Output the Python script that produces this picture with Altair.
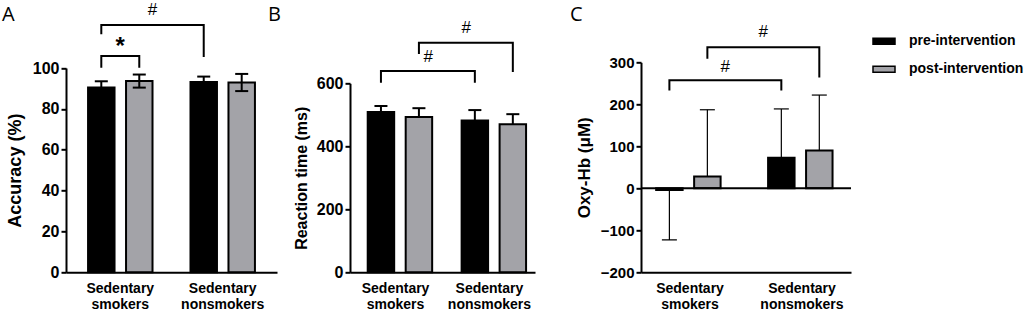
import altair as alt
import pandas as pd

# ---------------- data ----------------
groups = ["Sedentary smokers", "Sedentary nonsmokers"]
series = ["pre-intervention", "post-intervention"]
bar_group = [groups[0], groups[0], groups[1], groups[1]]
bar_series = [series[0], series[1], series[0], series[1]]

acc_mean = [90.4, 93.6, 93.2, 92.9]
acc_err = [3.1, 3.2, 2.6, 4.2]
rt_mean = [509, 493, 482, 470]
rt_err = [19, 28, 33, 32]
oxy_mean = [-4, 28, 73, 90]
oxy_err = [119, 159, 116, 132]

# significance brackets: from (group, series) to (group, series), left end, top, right end
acc_brackets = [
    (groups[0], series[0], groups[0], series[1], 100.6, 105.9, 100.6),
    (groups[0], series[0], groups[1], series[0], 117.0, 121.0, 105.9),
]
acc_star = [(groups[0], "*", 112.0)]
acc_hash = [(groups[0], series[0], "#", 128.5)]

rt_brackets = [
    (groups[0], series[0], groups[1], series[0], 605, 639, 605),
    (groups[0], series[1], groups[1], series[1], 696, 729, 639),
]
rt_hash = [(groups[0], series[0], "#", 685), (groups[0], series[1], "#", 775)]

oxy_brackets = [
    (groups[0], series[0], groups[1], series[0], 235, 257, 235),
    (groups[0], series[1], groups[1], series[1], 311, 336, 266),
]
oxy_hash = [(groups[0], series[0], "#", 290), (groups[0], series[1], "#", 373)]

FONT = "Liberation Sans, Arial, sans-serif"
GRAY = "#a3a3a8"


def bracket_df(spec):
    rows = []
    for i, (g1, s1, g2, s2, yl, top, yr) in enumerate(spec):
        pts = [(g1, s1, yl), (g1, s1, top), (g2, s2, top), (g2, s2, yr)]
        for k, (g, s, v) in enumerate(pts):
            rows.append({"id": i, "k": k, "group": g, "series": s, "y": v})
    return pd.DataFrame(rows)


def make_panel(mean, err, mode, y_title, y_domain, y_range, y_values, width,
               x_range, x_pad, off_pad, brackets, hashes, hash_dx, stars,
               tick_font, title_font, title_pad, letter, letter_xy,
               err_w, cap_size, zero_line=False):
    bars = pd.DataFrame({"group": bar_group, "series": bar_series, "mean": mean})
    lo, hi, cap_rows = [], [], []
    for g, s, m, e in zip(bar_group, bar_series, mean, err):
        if mode == "both":
            lo.append(m - e); hi.append(m + e)
            cap_rows += [(g, s, m - e), (g, s, m + e)]
        elif m >= 0:
            lo.append(m); hi.append(m + e)
            cap_rows.append((g, s, m + e))
        else:
            lo.append(m - e); hi.append(m)
            cap_rows.append((g, s, m - e))
    errs = pd.DataFrame({"group": bar_group, "series": bar_series, "lo": lo, "hi": hi})
    caps = pd.DataFrame(cap_rows, columns=["group", "series", "y"])

    xs = dict(domain=groups, paddingInner=x_pad[0], paddingOuter=x_pad[1])
    if x_range is not None:
        xs["range"] = x_range
    xaxis = alt.Axis(title=None, labelAngle=0, ticks=False, domainWidth=2,
                     domainColor="black", labelFontSize=14, labelColor="black",
                     labelPadding=9, labelExpr="split(datum.label, ' ')",
                     labelLineHeight=16, labelBaseline="top")
    X = lambda: alt.X("group:N", scale=alt.Scale(**xs), axis=xaxis)
    XO = lambda: alt.XOffset("series:N", scale=alt.Scale(domain=series,
                             paddingInner=off_pad[0], paddingOuter=off_pad[1]))
    ys = dict(domain=y_domain, nice=False, zero=False)
    if y_range is not None:
        ys["range"] = y_range
    yaxis = alt.Axis(title=y_title, values=y_values, grid=False, tickSize=5,
                     tickWidth=2, tickColor="black", domainWidth=2,
                     domainColor="black", labelFontSize=tick_font, labelColor="black",
                     labelPadding=2, titleFontSize=title_font,
                     titleColor="black", titlePadding=title_pad)
    Y = lambda f: alt.Y(f, scale=alt.Scale(**ys), axis=yaxis)

    color = alt.Color("series:N", scale=alt.Scale(domain=series, range=["#000000", GRAY]),
                      legend=alt.Legend(orient="none", legendX=806, legendY=-33,
                                        title=None, symbolType="M-1,-0.27H1V0.27H-1Z",
                                        symbolSize=484, symbolStrokeColor="black",
                                        symbolStrokeWidth=1.5, symbolOpacity=1,
                                        labelFont=FONT, labelFontSize=14,
                                        labelFontWeight="bold", labelColor="black",
                                        labelOffset=13, rowPadding=9, padding=0))

    layers = []
    layers.append(alt.Chart(bars).mark_bar(stroke="black", strokeWidth=2, opacity=1).encode(
        x=X(), xOffset=XO(), y=Y("mean:Q"), color=color))
    if zero_line:
        layers.append(alt.Chart(pd.DataFrame({"y": [0]})).mark_rule(
            color="black", strokeWidth=2).encode(y=Y("y:Q")))
    layers.append(alt.Chart(errs).mark_rule(color="black", strokeWidth=err_w).encode(
        x=X(), xOffset=XO(), y=Y("lo:Q"), y2="hi:Q"))
    layers.append(alt.Chart(caps).mark_tick(color="black", thickness=err_w, size=cap_size,
                                            orient="horizontal", opacity=1).encode(
        x=X(), xOffset=XO(), y=Y("y:Q")))
    layers.append(alt.Chart(bracket_df(brackets)).mark_line(
        color="black", strokeWidth=2, strokeCap="square").encode(
        x=X(), xOffset=XO(), y=Y("y:Q"), detail="id:N", order="k:Q"))
    hdf = pd.DataFrame(hashes, columns=["group", "series", "t", "y"])
    layers.append(alt.Chart(hdf).mark_text(font=FONT, fontSize=17, color="black",
                                           baseline="middle", dx=hash_dx).encode(
        x=X(), xOffset=XO(), y=Y("y:Q"), text="t:N"))
    if stars:
        sdf = pd.DataFrame(stars, columns=["group", "t", "y"])
        layers.append(alt.Chart(sdf).mark_text(font=FONT, fontSize=24, fontWeight="bold",
                                               color="black", baseline="middle", dy=4).encode(
            x=X(), y=Y("y:Q"), text="t:N"))
    layers.append(alt.Chart(pd.DataFrame({"t": [letter]})).mark_text(
        font="Open Sans", fontSize=20, color="black", align="left",
        baseline="alphabetic").encode(
        x=alt.value(letter_xy[0]), y=alt.value(letter_xy[1]), text="t:N"))

    return alt.layer(*layers).properties(width=width, height=210)


A = make_panel(acc_mean, acc_err, "both", "Accuracy (%)", [0, 100], [210, 5.7],
               [0, 20, 40, 60, 80, 100], 211, None, (0.3, 0.18), (0.303, 0.0955),
               acc_brackets, acc_hash, 51.25, acc_star, 16, 18, 8, "A", (-64, -41),
               2, 13)
B = make_panel(rt_mean, rt_err, "out", "Reaction time (ms)", [0, 600], [210, 21],
               [0, 200, 400, 600], 217.7, [0, 185], (0.33, 0.15), (0.3, 0.0825),
               rt_brackets, rt_hash, 47.3, None, 16, 16, 7, "B", (-82, -41.5),
               2, 13)
C = make_panel(oxy_mean, oxy_err, "out", "Oxy-Hb (\u03bcM)", [-200, 300], None,
               [-200, -100, 0, 100, 200, 300], 210, None, (0.33, 0.103), (0.376, 0.086),
               oxy_brackets, oxy_hash, 55.9, None, 15, 17, 7, "C", (-71, -41.5),
               1.2, 15, zero_line=True)

chart = alt.hconcat(A, B, C, spacing=73, bounds="flush").properties(
    autosize=alt.AutoSizeParams(type="none"),
    padding={"left": 66, "top": 62.3, "right": 958, "bottom": 248.7},
    background="white",
).configure_view(stroke=None).configure_axis(
    labelFont=FONT, titleFont=FONT, labelFontWeight="bold", titleFontWeight="bold"
)

chart.save("out.html", embed_options={"renderer": "svg", "actions": False})
